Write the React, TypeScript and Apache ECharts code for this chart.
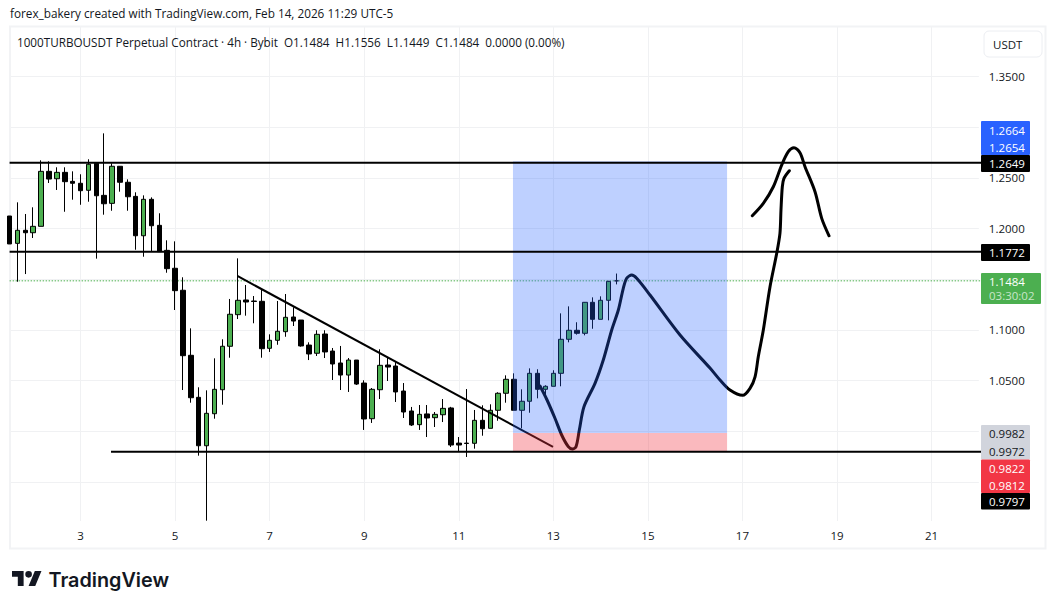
import { useRef, useEffect } from 'react'
import * as echarts from 'echarts'

const FONT = '"Open Sans", sans-serif'
const TEXT_COLOR = '#131722'

// ── bars: index 0 sits on the left edge, 6 bars a day ─────────
const BAR_SLOTS = 124
const DAY_TICKS: Record<number, string> = {
  9: '3', 21: '5', 33: '7', 45: '9', 57: '11', 69: '13', 81: '15', 93: '17', 105: '19', 117: '21',
}
const categories = Array.from({ length: BAR_SLOTS }, (_, i) => DAY_TICKS[i] ?? '')

// [open, close, low, high]
const candles: number[][] = [
  [1.2124, 1.1848, 1.1848, 1.2124], [1.1854, 1.1983, 1.1475, 1.2259], [1.1983, 1.1959, 1.1551, 1.2144],
  [1.1959, 1.2022, 1.1907, 1.2210], [1.2022, 1.2565, 1.2022, 1.2674], [1.2565, 1.2489, 1.2450, 1.2664],
  [1.2492, 1.2555, 1.2381, 1.2605], [1.2555, 1.2463, 1.2166, 1.2605], [1.2466, 1.2447, 1.2285, 1.2565],
  [1.2447, 1.2374, 1.2235, 1.2536], [1.2378, 1.2635, 1.2265, 1.2684], [1.2644, 1.2324, 1.1703, 1.2647],
  [1.2328, 1.2245, 1.2137, 1.2940], [1.2249, 1.2615, 1.2176, 1.2644], [1.2615, 1.2457, 1.2364, 1.2617],
  [1.2457, 1.2314, 1.2176, 1.2486], [1.2318, 1.1929, 1.1791, 1.2358], [1.1929, 1.2289, 1.1722, 1.2328],
  [1.2289, 1.2028, 1.1772, 1.2308], [1.2032, 1.1772, 1.1769, 1.2151], [1.1785, 1.1604, 1.1564, 1.1884],
  [1.1608, 1.1387, 1.1196, 1.1874], [1.1391, 1.0745, 1.0406, 1.1519], [1.0749, 1.0330, 1.0281, 1.1015],
  [1.0334, 0.9856, 0.9758, 1.0433], [0.9856, 1.0176, 0.9116, 1.0403], [1.0172, 1.0413, 1.0123, 1.0719],
  [1.0409, 1.0838, 1.0261, 1.0907], [1.0838, 1.1154, 1.0725, 1.1305], [1.1150, 1.1292, 1.1107, 1.1706],
  [1.1295, 1.1275, 1.1140, 1.1443], [1.1285, 1.1280, 1.1065, 1.1334], [1.1282, 1.0814, 1.0725, 1.1394],
  [1.0818, 1.0897, 1.0782, 1.0956], [1.0897, 1.0986, 1.0853, 1.1285], [1.0982, 1.1124, 1.0932, 1.1354],
  [1.1127, 1.1087, 1.1038, 1.1223], [1.1097, 1.0841, 1.0834, 1.1097], [1.0850, 1.0762, 1.0702, 1.0877],
  [1.0769, 1.0956, 1.0742, 1.0996], [1.0959, 1.0782, 1.0722, 1.0996], [1.0791, 1.0663, 1.0505, 1.0821],
  [1.0673, 1.0554, 1.0406, 1.0841], [1.0554, 1.0702, 1.0387, 1.0722], [1.0702, 1.0465, 1.0456, 1.0702],
  [1.0475, 1.0120, 1.0012, 1.0502], [1.0123, 1.0413, 1.0081, 1.0426], [1.0409, 1.0650, 1.0317, 1.0808],
  [1.0653, 1.0633, 1.0495, 1.0729], [1.0643, 1.0387, 1.0288, 1.0682], [1.0396, 1.0189, 1.0130, 1.0475],
  [1.0199, 1.0061, 1.0051, 1.0239], [1.0064, 1.0166, 1.0012, 1.0258], [1.0170, 1.0130, 0.9942, 1.0258],
  [1.0133, 1.0166, 1.0041, 1.0189], [1.0162, 1.0225, 1.0090, 1.0317], [1.0229, 0.9863, 0.9844, 1.0240],
  [0.9882, 0.9863, 0.9794, 0.9942], [0.9882, 0.9878, 0.9745, 1.0416], [0.9880, 1.0107, 0.9827, 1.0209],
  [1.0107, 1.0024, 0.9955, 1.0255], [1.0028, 1.0206, 1.0028, 1.0265], [1.0206, 1.0374, 1.0103, 1.0384],
  [1.0374, 1.0512, 1.0281, 1.0551], [1.0512, 1.0206, 1.0206, 1.0571], [1.0206, 1.0295, 1.0028, 1.0413],
  [1.0295, 1.0571, 1.0182, 1.0620], [1.0571, 1.0413, 1.0324, 1.0611], [1.0413, 1.0443, 1.0314, 1.0453],
  [1.0443, 1.0571, 1.0443, 1.0601], [1.0571, 1.0907, 1.0443, 1.1163], [1.0907, 1.0996, 1.0877, 1.1232],
  [1.0996, 1.0966, 1.0953, 1.1075], [1.0966, 1.1272, 1.0946, 1.1275], [1.1272, 1.1104, 1.1011, 1.1321],
  [1.1104, 1.1292, 1.1104, 1.1331], [1.1292, 1.1479, 1.1094, 1.1484], [1.1484, 1.1484, 1.1449, 1.1556],
]

// ── drawings, in [bar index, price] ───────────────────────────
const SUPPORT = 0.9797
const MID_LEVEL = 1.1772
const TOP_LEVEL = 1.2649
const LAST_PRICE = 1.1484

const trendLine = [[28.9, 1.1532], [68.96, 0.9844]]
const supportLine = [[12.87, SUPPORT], [123.28, SUPPORT]]
const midLine = [[0, MID_LEVEL], [123.28, MID_LEVEL]]
const topLine = [[0, TOP_LEVEL], [123.28, TOP_LEVEL]]
const lastLine = [[0, LAST_PRICE], [123.28, LAST_PRICE]]

const strokeUp = [
  [67.31, 1.0446], [68.16, 1.0315], [69.21, 1.0127], [70.06, 0.9962], [70.9, 0.9847], [71.41, 0.9824],
  [71.88, 0.9847], [72.3, 1.0011], [72.89, 1.0241], [74.29, 1.0472], [75.34, 1.0702], [76.41, 1.0999],
  [77.25, 1.1196], [77.88, 1.141], [78.31, 1.1509], [78.95, 1.1541], [79.58, 1.1509], [81.27, 1.1344],
  [85.08, 1.0949], [88.88, 1.0623], [90.15, 1.0505], [91.42, 1.0406], [93.03, 1.0354], [93.96, 1.0423],
  [94.6, 1.0537], [95.01, 1.0735], [95.65, 1.0999], [96.5, 1.1426], [97.35, 1.1756], [97.76, 1.1953],
  [97.89, 1.2183], [98.06, 1.2413], [98.27, 1.2496], [98.95, 1.2571],
]
const strokeTop = [
  [94.25, 1.2127], [95.65, 1.2249], [96.92, 1.2413], [97.98, 1.2627], [98.82, 1.2759], [99.54, 1.2798],
  [100.3, 1.2749], [100.94, 1.2611], [102.21, 1.2364], [103.06, 1.2101], [103.99, 1.1929],
]

// [from bar, to bar, top price, bottom price]
const profileZone = [63.88, 91.05, 1.2664, 0.9982]
const stopZone = [63.88, 91.05, 0.9982, 0.9797]

// ── price axis ────────────────────────────────────────────────
const PRICE_MIN = 0.9113
const PRICE_MAX = 1.399
const gridPrices = [0.95, 1.0, 1.05, 1.1, 1.15, 1.2, 1.25, 1.3, 1.35]
const labelPrices = [1.05, 1.1, 1.2, 1.25, 1.35]

// tags stacked on the price scale: [top, bottom, right, fill]
const tagBoxes: [number, number, number, string][] = [
  [121, 155, 1030, '#2962FF'],
  [155, 172, 1030, '#000000'],
  [244, 261, 1030, '#000000'],
  [273, 304, 1041, '#4CAF50'],
  [425, 459.5, 1030, '#D1D4DC'],
  [459.5, 493, 1030, '#F23645'],
  [493, 509.5, 1030, '#000000'],
]
// [text, centre y, colour]
const tagTexts: [string, number, string][] = [
  ['1.2664', 130, '#ffffff'],
  ['1.2654', 147, '#ffffff'],
  ['1.2649', 163.5, '#ffffff'],
  ['1.1772', 252.5, '#ffffff'],
  ['1.1484', 281.5, '#ffffff'],
  ['03:30:02', 295.5, '#C8E6C9'],
  ['0.9982', 433.5, TEXT_COLOR],
  ['0.9972', 451, TEXT_COLOR],
  ['0.9822', 468, '#ffffff'],
  ['0.9812', 485, '#ffffff'],
  ['0.9797', 501.5, '#ffffff'],
]

const TV_ICON = 'M14 22H7V11H0V4h14v18zM28 22h-8l7.5-18h8L28 22zM24 8a4 4 0 1 1-8 0a4 4 0 1 1 8 0z'
echarts.graphic.registerShape('tvIcon', echarts.graphic.extendPath(TV_ICON, {}))

function zoneSeries(zone: number[], fill: string) {
  return {
    type: 'custom',
    xAxisIndex: 1,
    yAxisIndex: 0,
    z: 5,
    silent: true,
    data: [zone],
    encode: { x: [0, 1], y: [2, 3] },
    renderItem: (_: unknown, api: any) => {
      const a = api.coord([api.value(0), api.value(2)])
      const b = api.coord([api.value(1), api.value(3)])
      return { type: 'rect', shape: { x: a[0], y: a[1], width: b[0] - a[0], height: b[1] - a[1] }, style: { fill } }
    },
  }
}

function drawnLine(data: number[][], z: number, width: number, extra: object = {}) {
  return {
    type: 'line',
    xAxisIndex: 1,
    yAxisIndex: 0,
    data,
    z,
    symbol: 'none',
    silent: true,
    clip: false,
    lineStyle: { color: '#000000', width },
    ...extra,
  }
}

function buildOption() {
  const text = (str: string, x: number, y: number, fill: string, fontSize: number) => ({
    type: 'text',
    x,
    y,
    z: 30,
    style: { text: str, fill, font: `${fontSize}px ${FONT}`, textVerticalAlign: 'middle' },
  })

  return {
    animation: false,
    backgroundColor: '#ffffff',
    grid: { left: 9.6, top: 27, width: 969.24, height: 494, containLabel: false },
    xAxis: [
      {
        type: 'category',
        data: categories,
        boundaryGap: false,
        axisLine: { show: false },
        axisTick: { show: false },
        axisLabel: {
          interval: (_: number, v: string) => v !== '',
          color: TEXT_COLOR,
          fontFamily: FONT,
          fontSize: 11.5,
          margin: 8,
        },
        splitLine: {
          show: true,
          interval: (_: number, v: string) => v !== '',
          lineStyle: { color: '#f0f1f3', width: 1 },
        },
      },
      { type: 'value', min: 0, max: BAR_SLOTS - 1, show: false },
    ],
    yAxis: {
      type: 'value',
      position: 'right',
      min: PRICE_MIN,
      max: PRICE_MAX,
      axisLine: { show: false },
      axisTick: { show: false, customValues: gridPrices },
      axisLabel: {
        customValues: labelPrices,
        formatter: (v: number) => v.toFixed(4),
        color: TEXT_COLOR,
        fontFamily: FONT,
        fontSize: 11.5,
        margin: 10,
      },
      splitLine: { show: true, lineStyle: { color: '#f0f1f3', width: 1 } },
    },
    series: [
      drawnLine(lastLine, 2, 1, { lineStyle: { color: '#4CAF50', width: 1, type: [1.5, 1.5] } }),
      {
        type: 'candlestick',
        data: candles,
        z: 3,
        barWidth: 5,
        silent: true,
        itemStyle: {
          color: '#4CAF50',
          color0: '#000000',
          borderColor: '#000000',
          borderColor0: '#000000',
          borderWidth: 1,
        },
      },
      drawnLine(strokeUp, 4, 3, { smooth: 0.3, lineStyle: { color: '#000000', width: 3, cap: 'round', join: 'round' } }),
      drawnLine(strokeTop, 4, 3, { smooth: 0.3, lineStyle: { color: '#000000', width: 3, cap: 'round', join: 'round' } }),
      drawnLine(trendLine, 4, 2),
      zoneSeries(profileZone, 'rgba(41,98,255,0.3)'),
      zoneSeries(stopZone, 'rgba(242,54,69,0.35)'),
      drawnLine(topLine, 6, 2),
      drawnLine(midLine, 6, 2),
      drawnLine(supportLine, 6, 2),
    ],
    graphic: [
      // chart frame
      {
        type: 'rect',
        z: 1,
        shape: { x: 10, y: 26.5, width: 1035.5, height: 522 },
        style: { fill: 'none', stroke: '#f2f3f5', lineWidth: 2 },
      },
      text('forex_bakery created with TradingView.com, Feb 14, 2026 11:29 UTC-5', 10, 12.5, TEXT_COLOR, 11.75),
      text(
        '1000TURBOUSDT Perpetual Contract · 4h · Bybit  O1.1484  H1.1556  L1.1449  C1.1484  0.0000 (0.00%)',
        17,
        41.5,
        TEXT_COLOR,
        11.7,
      ),
      // currency button
      {
        type: 'rect',
        z: 30,
        shape: { x: 984, y: 31, width: 58, height: 26, r: 5 },
        style: { fill: '#ffffff', stroke: '#eceef2', lineWidth: 1 },
      },
      text('USDT', 993, 44.5, TEXT_COLOR, 11.5),
      ...tagBoxes.map(([top, bottom, right, fill]) => ({
        type: 'rect',
        z: 28,
        shape: { x: 981, y: top, width: right - 981, height: bottom - top, r: 1 },
        style: { fill },
      })),
      ...tagTexts.map(([label, y, fill]) => text(label, 989, y, fill, 11.5)),
      // logo
      { type: 'tvIcon', x: 12, y: 567.7, scaleX: 0.83, scaleY: 0.83, z: 30, style: { fill: '#131722' } },
      {
        type: 'text',
        x: 48.5,
        y: 580,
        z: 30,
        style: { text: 'TradingView', fill: '#131722', font: '600 19.8px Inter, sans-serif', textVerticalAlign: 'middle' },
      },
    ],
  }
}

export default function App() {
  const containerRef = useRef<HTMLDivElement>(null)

  useEffect(() => {
    if (!containerRef.current) return
    const chart = echarts.init(containerRef.current, null, { renderer: 'svg' })
    chart.setOption(buildOption())
    return () => chart.dispose()
  }, [])

  return <div ref={containerRef} style={{ position: 'fixed', left: 0, top: 0, width: 1056, height: 609 }} />
}
